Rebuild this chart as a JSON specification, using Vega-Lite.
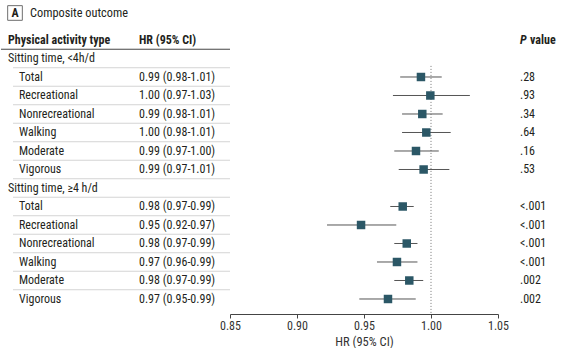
{
  "$schema": "https://vega.github.io/schema/vega-lite/v6.json",
  "padding": 0,
  "bounds": "flush",
  "spacing": 0,
  "background": "white",
  "config": {
    "view": {"stroke": null},
    "font": "Liberation Sans Narrow, Roboto Condensed, Roboto, sans-serif",
    "text": {"font": "Liberation Sans Narrow, Roboto Condensed, Roboto, sans-serif", "fontSize": 12, "color": "#231f20", "baseline": "middle", "align": "left"}
  },
  "datasets": {
    "table": [
      {"row": 0, "kind": "group", "label": "Sitting time, <4h/d"},
      {"row": 1, "kind": "item", "label": "Total", "hrText": "0.99 (0.98-1.01)", "hr": 0.9925, "lo": 0.977, "hi": 1.008, "p": ".28"},
      {"row": 2, "kind": "item", "label": "Recreational", "hrText": "1.00 (0.97-1.03)", "hr": 0.9995, "lo": 0.9716, "hi": 1.029, "p": ".93"},
      {"row": 3, "kind": "item", "label": "Nonrecreational", "hrText": "0.99 (0.98-1.01)", "hr": 0.9935, "lo": 0.9784, "hi": 1.0087, "p": ".34"},
      {"row": 4, "kind": "item", "label": "Walking", "hrText": "1.00 (0.98-1.01)", "hr": 0.9965, "lo": 0.9784, "hi": 1.0147, "p": ".64"},
      {"row": 5, "kind": "item", "label": "Moderate", "hrText": "0.99 (0.97-1.00)", "hr": 0.9888, "lo": 0.9726, "hi": 1.0058, "p": ".16"},
      {"row": 6, "kind": "item", "label": "Vigorous", "hrText": "0.99 (0.97-1.01)", "hr": 0.9945, "lo": 0.9759, "hi": 1.0137, "p": ".53"},
      {"row": 7, "kind": "group", "label": "Sitting time, ≥4 h/d"},
      {"row": 8, "kind": "item", "label": "Total", "hrText": "0.98 (0.97-0.99)", "hr": 0.9789, "lo": 0.9696, "hi": 0.9871, "p": "<.001"},
      {"row": 9, "kind": "item", "label": "Recreational", "hrText": "0.95 (0.92-0.97)", "hr": 0.9478, "lo": 0.9224, "hi": 0.9741, "p": "<.001"},
      {"row": 10, "kind": "item", "label": "Nonrecreational", "hrText": "0.98 (0.97-0.99)", "hr": 0.9819, "lo": 0.9726, "hi": 0.9899, "p": "<.001"},
      {"row": 11, "kind": "item", "label": "Walking", "hrText": "0.97 (0.96-0.99)", "hr": 0.9746, "lo": 0.9597, "hi": 0.9899, "p": "<.001"},
      {"row": 12, "kind": "item", "label": "Moderate", "hrText": "0.98 (0.97-0.99)", "hr": 0.9838, "lo": 0.9726, "hi": 0.9942, "p": ".002"},
      {"row": 13, "kind": "item", "label": "Vigorous", "hrText": "0.97 (0.95-0.99)", "hr": 0.9679, "lo": 0.9465, "hi": 0.9886, "p": ".002"}
    ]
  },
  "hconcat": [
    {
      "width": 229,
      "height": 314,
      "layer": [
        {
          "data": {"values": [{"t": "A"}]},
          "mark": {"type": "point", "shape": "square", "size": 215, "filled": false, "stroke": "#333333", "strokeWidth": 1},
          "encoding": {
            "x": {"datum": 14, "type": "quantitative", "scale": {"domain": [0, 229], "padding": 0, "nice": false, "zero": false}, "axis": null},
            "y": {"datum": -2.46, "type": "quantitative", "scale": {"domain": [-3.162, 13.811], "reverse": true, "padding": 0, "nice": false, "zero": false}, "axis": null}
          }
        },
        {
          "data": {"values": [{"t": "A"}]},
          "mark": {"type": "text", "align": "center", "fontWeight": "bold", "fontSize": 12},
          "encoding": {
            "x": {"datum": 14, "type": "quantitative"},
            "y": {"datum": -2.46, "type": "quantitative"},
            "text": {"field": "t"}
          }
        },
        {
          "data": {"values": [{"t": "Composite outcome"}]},
          "mark": {"type": "text", "fontSize": 12.3},
          "encoding": {
            "x": {"datum": 29, "type": "quantitative"},
            "y": {"datum": -2.46, "type": "quantitative"},
            "text": {"field": "t"}
          }
        },
        {
          "data": {"values": [{"t": "Physical activity type"}]},
          "mark": {"type": "text", "fontWeight": "bold"},
          "encoding": {
            "x": {"datum": 7, "type": "quantitative"},
            "y": {"datum": -1, "type": "quantitative"},
            "text": {"field": "t"}
          }
        },
        {
          "data": {"values": [{"t": "HR (95% CI)"}]},
          "mark": {"type": "text", "fontWeight": "bold"},
          "encoding": {
            "x": {"datum": 138, "type": "quantitative"},
            "y": {"datum": -1, "type": "quantitative"},
            "text": {"field": "t"}
          }
        },
        {
          "data": {"values": [{}]},
          "mark": {"type": "rule", "color": "#444444", "strokeWidth": 1},
          "encoding": {
            "x": {"datum": 0, "type": "quantitative"},
            "x2": {"datum": 229},
            "y": {"datum": -0.5, "type": "quantitative"}
          }
        },
        {
          "data": {"name": "table"},
          "transform": [{"filter": "datum.row < 13"}, {"calculate": "datum.row + 0.5", "as": "sep"}],
          "mark": {"type": "rule", "color": "#d4d4d4", "strokeWidth": 1},
          "encoding": {
            "x": {"datum": 12, "type": "quantitative"},
            "x2": {"datum": 229},
            "y": {"field": "sep", "type": "quantitative"}
          }
        },
        {
          "data": {"name": "table"},
          "transform": [{"filter": "datum.kind == 'group'"}],
          "mark": {"type": "text"},
          "encoding": {
            "x": {"datum": 7, "type": "quantitative"},
            "y": {"field": "row", "type": "quantitative"},
            "text": {"field": "label"}
          }
        },
        {
          "data": {"name": "table"},
          "transform": [{"filter": "datum.kind == 'item'"}],
          "mark": {"type": "text"},
          "encoding": {
            "x": {"datum": 18, "type": "quantitative"},
            "y": {"field": "row", "type": "quantitative"},
            "text": {"field": "label"}
          }
        },
        {
          "data": {"name": "table"},
          "transform": [{"filter": "datum.kind == 'item'"}],
          "mark": {"type": "text"},
          "encoding": {
            "x": {"datum": 138, "type": "quantitative"},
            "y": {"field": "row", "type": "quantitative"},
            "text": {"field": "hrText"}
          }
        }
      ]
    },
    {
      "width": 268,
      "height": 314,
      "layer": [
        {
          "data": {"values": [{}]},
          "mark": {"type": "rule", "color": "#777777", "strokeWidth": 1, "strokeDash": [1, 2]},
          "encoding": {
            "x": {"datum": 1, "type": "quantitative", "scale": {"domain": [0.85, 1.05], "padding": 0, "nice": false, "zero": false},
              "axis": {"values": [0.85, 0.9, 0.95, 1.0, 1.05], "format": ".2f", "title": "HR (95% CI)", "grid": false,
                "domainColor": "#444444", "tickColor": "#444444", "tickSize": 4, "labelFontSize": 12, "labelColor": "#333333",
                "labelFont": "Liberation Sans Narrow, Roboto Condensed, Roboto, sans-serif", "titleFont": "Liberation Sans Narrow, Roboto Condensed, Roboto, sans-serif",
                "titleFontSize": 12.5, "titleFontWeight": "normal", "titleColor": "#333333", "labelPadding": 2, "titlePadding": 4, "labelFlush": false}},
            "y": {"datum": 0.4, "type": "quantitative", "scale": {"domain": [-3.162, 13.811], "reverse": true, "padding": 0, "nice": false, "zero": false}, "axis": null},
            "y2": {"datum": 13.811}
          }
        },
        {
          "data": {"name": "table"},
          "transform": [{"filter": "datum.kind == 'item'"}],
          "mark": {"type": "rule", "color": "#555555", "strokeWidth": 1},
          "encoding": {
            "x": {"field": "lo", "type": "quantitative"},
            "x2": {"field": "hi"},
            "y": {"field": "row", "type": "quantitative"}
          }
        },
        {
          "data": {"name": "table"},
          "transform": [{"filter": "datum.kind == 'item'"}],
          "mark": {"type": "point", "shape": "square", "filled": true, "size": 72, "color": "#2b5766", "opacity": 1},
          "encoding": {
            "x": {"field": "hr", "type": "quantitative"},
            "y": {"field": "row", "type": "quantitative"}
          }
        }
      ]
    },
    {
      "width": 79,
      "height": 314,
      "layer": [
        {
          "data": {"values": [{"t": "P"}]},
          "mark": {"type": "text", "fontWeight": "bold", "fontStyle": "italic"},
          "encoding": {
            "x": {"datum": 22, "type": "quantitative", "scale": {"domain": [0, 79], "padding": 0, "nice": false, "zero": false}, "axis": null},
            "y": {"datum": -1, "type": "quantitative", "scale": {"domain": [-3.162, 13.811], "reverse": true, "padding": 0, "nice": false, "zero": false}, "axis": null},
            "text": {"field": "t"}
          }
        },
        {
          "data": {"values": [{"t": "value"}]},
          "mark": {"type": "text", "fontWeight": "bold"},
          "encoding": {
            "x": {"datum": 32, "type": "quantitative"},
            "y": {"datum": -1, "type": "quantitative"},
            "text": {"field": "t"}
          }
        },
        {
          "data": {"name": "table"},
          "transform": [{"filter": "datum.kind == 'item'"}],
          "mark": {"type": "text"},
          "encoding": {
            "x": {"datum": 22, "type": "quantitative"},
            "y": {"field": "row", "type": "quantitative"},
            "text": {"field": "p"}
          }
        }
      ]
    }
  ]
}
